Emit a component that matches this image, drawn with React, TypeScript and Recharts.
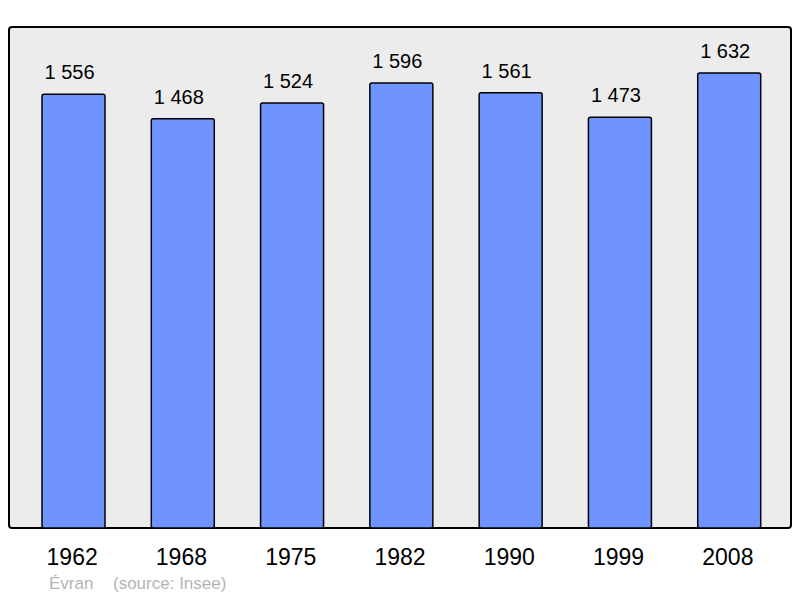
import React from "react";
import { BarChart, Bar, XAxis, YAxis, LabelList } from "recharts";

const years = ["1962", "1968", "1975", "1982", "1990", "1999", "2008"];
const population = [1556, 1468, 1524, 1596, 1561, 1473, 1632];
const townName = "Évran";
const sourceText = "(source: Insee)";

const data = years.map((y, i) => ({ year: y, pop: population[i] }));

const FONT = "'Liberation Sans', Arial, sans-serif";

const fmt = (v: number) => {
  const s = String(v);
  return s.length > 3 ? s.slice(0, s.length - 3) + " " + s.slice(-3) : s;
};

const YearTick = (props: any) => {
  const { x, payload } = props;
  return (
    <text x={x - 1.5} y={565} textAnchor="middle" fontSize={23} fill="#000" fontFamily={FONT}>
      {payload.value}
    </text>
  );
};

const ValueLabel = (props: any) => {
  const { x, y, width, value } = props;
  return (
    <text x={x + width / 2 - 4} y={y - 15} textAnchor="middle" fontSize={20} fill="#000" fontFamily={FONT}>
      {fmt(value)}
    </text>
  );
};

export default function App() {
  return (
    <div style={{ position: "absolute", left: 0, top: 0, width: 800, height: 598, background: "#fff", fontFamily: FONT }}>
      <div
        style={{
          position: "absolute",
          left: 8,
          top: 26,
          width: 780,
          height: 499,
          background: "#ececec",
          border: "2px solid #000",
          borderRadius: 4,
        }}
      />
      <div style={{ position: "absolute", left: 0, top: 0 }}>
        <BarChart
          width={800}
          height={598}
          data={data}
          margin={{ top: 27, right: 9, bottom: 40, left: 9 }}
        >
          <YAxis hide domain={[0, 1797]} />
          <XAxis
            dataKey="year"
            axisLine={false}
            tickLine={false}
            height={30}
            padding={{ left: 10, right: 7 }}
            tick={<YearTick />}
            interval={0}
          />
          <Bar
            dataKey="pop"
            fill="#7094ff"
            stroke="#000"
            strokeWidth={1.5}
            barSize={63}
            radius={2}
            isAnimationActive={false}
          >
            <LabelList dataKey="pop" content={<ValueLabel />} />
          </Bar>
        </BarChart>
      </div>
      <div style={{ position: "absolute", left: 49, top: 574, fontSize: 17, color: "#b4b4b4", whiteSpace: "pre" }}>
        {townName}
      </div>
      <div style={{ position: "absolute", left: 113, top: 574, fontSize: 17, color: "#b4b4b4", whiteSpace: "pre" }}>
        {sourceText}
      </div>
    </div>
  );
}
